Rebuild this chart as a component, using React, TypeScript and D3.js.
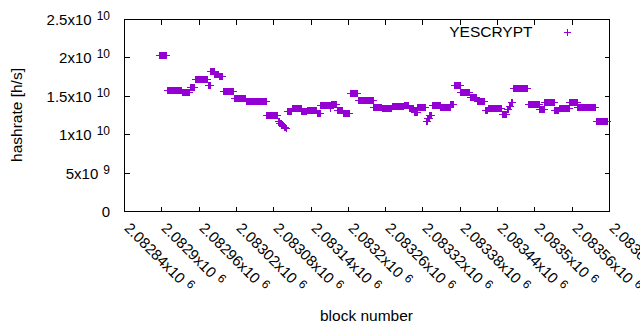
import React, { useRef, useEffect } from "react";
import * as d3 from "d3";

// hashrate runs: blocks [start..end] share one estimate (x1e10 h/s)
const runStart = [
  2082897, 2082909, 2082933, 2082946, 2082954, 2082975, 2082979, 2082985, 2082992,
  2082999, 2083017, 2083036, 2083069, 2083087, 2083090, 2083093, 2083097, 2083100,
  2083102, 2083110, 2083125, 2083134, 2083150, 2083156, 2083172, 2083173, 2083182,
  2083192, 2083203, 2083216, 2083241, 2083255, 2083271, 2083290, 2083298, 2083306,
  2083312, 2083325, 2083328, 2083331, 2083335, 2083349, 2083365, 2083370, 2083381,
  2083396, 2083407, 2083420, 2083425, 2083448, 2083456, 2083459, 2083462, 2083465,
  2083489, 2083508, 2083516, 2083532, 2083539, 2083556, 2083569, 2083599,
];
const runEnd = [
  2082908, 2082932, 2082945, 2082953, 2082974, 2082978, 2082984, 2082991, 2082998,
  2083016, 2083035, 2083068, 2083086, 2083089, 2083092, 2083096, 2083099, 2083101,
  2083109, 2083124, 2083133, 2083149, 2083155, 2083171, 2083172, 2083181, 2083191,
  2083202, 2083215, 2083240, 2083254, 2083270, 2083289, 2083297, 2083305, 2083311,
  2083324, 2083327, 2083330, 2083334, 2083348, 2083364, 2083369, 2083380, 2083395,
  2083406, 2083419, 2083424, 2083447, 2083455, 2083458, 2083461, 2083464, 2083488,
  2083507, 2083515, 2083531, 2083538, 2083555, 2083568, 2083598, 2083617,
];
const runRate = [
  2.027, 1.572, 1.553, 1.615, 1.715, 1.637, 1.82, 1.79, 1.758,
  1.563, 1.475, 1.428, 1.246, 1.172, 1.146, 1.12, 1.094, 1.08,
  1.3, 1.34, 1.3, 1.31, 1.27, 1.376, 1.337, 1.387, 1.31,
  1.27, 1.532, 1.45, 1.354, 1.345, 1.367, 1.38, 1.34, 1.29,
  1.357, 1.17, 1.21, 1.25, 1.38, 1.354, 1.393, 1.637, 1.553,
  1.48, 1.435, 1.31, 1.34, 1.26, 1.33, 1.367, 1.42, 1.6,
  1.389, 1.33, 1.415, 1.31, 1.34, 1.415, 1.35, 1.168,
];

const xTickValues = [
  2082840, 2082900, 2082960, 2083020, 2083080, 2083140, 2083200, 2083260,
  2083320, 2083380, 2083440, 2083500, 2083560, 2083620,
];
const yTickValues = [0, 5e9, 1e10, 1.5e10, 2e10, 2.5e10];
const seriesName = "YESCRYPT";
const xTitle = "block number";
const yTitle = "hashrate [h/s]";

const FONT = "'Liberation Sans', Arial, sans-serif";
const COLOR = "#9400d3";

const App = () => {
  const svgRef = useRef<SVGSVGElement>(null);
  const width = 640;
  const height = 330;

  useEffect(() => {
    const svg = d3.select(svgRef.current).attr("width", width).attr("height", height);
    const g = svg.append("g");

    const x = d3.scaleLinear().domain([2082840, 2083620]).range([124.5, 609.5]);
    const y = d3.scaleLinear().domain([0, 2.5e10]).range([211.5, 19.5]);

    const points: { block: number; rate: number }[] = [];
    runStart.forEach((s, i) => {
      for (let b = s; b <= runEnd[i]; b++) points.push({ block: b, rate: runRate[i] * 1e10 });
    });

    // ticks, mirrored on all four sides
    const tick = 5;
    xTickValues.forEach((v) => {
      const px = Math.round(x(v) - 0.5) + 0.5;
      g.append("line").attr("x1", px).attr("x2", px).attr("y1", 211.5).attr("y2", 211.5 - tick);
      g.append("line").attr("x1", px).attr("x2", px).attr("y1", 19.5).attr("y2", 19.5 + tick);
      const lab = g
        .append("text")
        .attr("transform", `translate(${px - 1},229) rotate(45)`)
        .attr("font-size", 15);
      lab.append("tspan").text(`${+(v / 1e6).toFixed(5)}x10`);
      lab.append("tspan").attr("dx", 5).attr("dy", -4.5).attr("font-size", 12).text("6");
    });
    yTickValues.forEach((v) => {
      const py = Math.round(y(v) - 0.5) + 0.5;
      g.append("line").attr("x1", 124.5).attr("x2", 124.5 + tick).attr("y1", py).attr("y2", py);
      g.append("line").attr("x1", 609.5).attr("x2", 609.5 - tick).attr("y1", py).attr("y2", py);
      const lab = g
        .append("text")
        .attr("x", 110)
        .attr("y", py + 5)
        .attr("text-anchor", "end")
        .attr("font-size", 15);
      if (v === 0) {
        lab.text("0");
      } else {
        const e = Math.floor(Math.log10(v) + 1e-9);
        const m = +(v / Math.pow(10, e)).toFixed(3);
        lab.append("tspan").text(`${m}x10`);
        lab.append("tspan").attr("dx", 5).attr("dy", -4.5).attr("font-size", 12).text(`${e}`);
      }
    });
    g.selectAll("line").attr("stroke", "#000").attr("stroke-width", 1).attr("shape-rendering", "crispEdges");

    g.append("rect")
      .attr("x", 124.5)
      .attr("y", 19.5)
      .attr("width", 485)
      .attr("height", 192)
      .attr("fill", "none")
      .attr("stroke", "#000")
      .attr("shape-rendering", "crispEdges");

    // "+" markers
    const plus = (cx: number, cy: number) =>
      `M${cx - 3.5},${cy}H${cx + 3.5}M${cx},${cy - 3.5}V${cy + 3.5}`;
    g.append("path")
      .attr(
        "d",
        points
          .map((d) => plus(Math.floor(x(d.block)) + 0.5, Math.floor(y(d.rate)) + 0.5))
          .join("")
      )
      .attr("fill", "none")
      .attr("stroke", COLOR)
      .attr("stroke-width", 1)
      .attr("shape-rendering", "crispEdges");

    // legend
    g.append("text")
      .attr("x", 532.5)
      .attr("y", 36.7)
      .attr("text-anchor", "end")
      .attr("font-size", 15.5)
      .text(seriesName);
    g.append("path")
      .attr("d", plus(567.5, 32.5))
      .attr("stroke", COLOR)
      .attr("shape-rendering", "crispEdges");

    // axis titles
    g.append("text")
      .attr("transform", "translate(22,115) rotate(-90)")
      .attr("text-anchor", "middle")
      .attr("font-size", 15.5)
      .text(yTitle);
    g.append("text")
      .attr("x", 366.5)
      .attr("y", 321)
      .attr("text-anchor", "middle")
      .attr("font-size", 15.5)
      .text(xTitle);

    g.selectAll("text").attr("font-family", FONT).attr("fill", "#000");

    return () => {
      g.remove();
    };
  }, []);

  return (
    <svg
      ref={svgRef}
      style={{ position: "absolute", left: 0, top: 0, background: "#fff" }}
    />
  );
};

export default App;
